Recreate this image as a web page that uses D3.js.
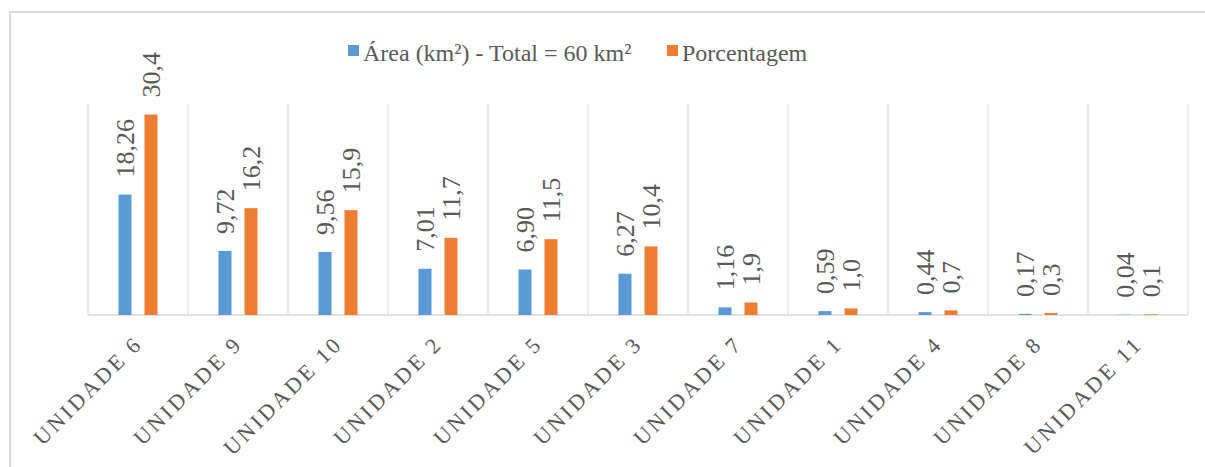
<!DOCTYPE html>
<html>
<head>
<meta charset="utf-8">
<script src="https://cdn.jsdelivr.net/npm/d3@7"></script>
<style>
  html, body { margin: 0; padding: 0; background: #fff; }
  svg { display: block; }
  text { font-family: "Liberation Serif", "Times New Roman", serif; fill: #595959; }
</style>
</head>
<body>
<div id="chart"></div>
<script>
// Units sorted by area
const categories = ["UNIDADE 6", "UNIDADE 9", "UNIDADE 10", "UNIDADE 2", "UNIDADE 5", "UNIDADE 3",
                    "UNIDADE 7", "UNIDADE 1", "UNIDADE 4", "UNIDADE 8", "UNIDADE 11"];
const areaKm2 = [18.26, 9.72, 9.56, 7.01, 6.90, 6.27, 1.16, 0.59, 0.44, 0.17, 0.04];
const percentage = [30.4, 16.2, 15.9, 11.7, 11.5, 10.4, 1.9, 1.0, 0.7, 0.3, 0.1];
const seriesNames = ["Área (km²) - Total = 60 km²", "Porcentagem"];
const seriesColors = ["#5b9bd5", "#ed7d31"];
const areaLabels = ["18,26", "9,72", "9,56", "7,01", "6,90", "6,27", "1,16", "0,59", "0,44", "0,17", "0,04"];
const pctLabels = ["30,4", "16,2", "15,9", "11,7", "11,5", "10,4", "1,9", "1,0", "0,7", "0,3", "0,1"];

const W = 1205, H = 467;
const plot = { left: 88, right: 1188, top: 104, bottom: 315 };

const svg = d3.select("#chart").append("svg").attr("width", W).attr("height", H);

// chart frame (top and left edges visible)
svg.append("path")
  .attr("d", `M10,${H} L10,12 L${W},12`)
  .attr("fill", "none").attr("stroke", "#d9d9d9").attr("stroke-width", 2);

const x0 = d3.scaleBand().domain(categories).range([plot.left, plot.right]).padding(0);
const x1 = d3.scaleBand().domain([0, 1]).range([0, x0.bandwidth()])
  .paddingInner(0.5).paddingOuter(1.173);
const y = d3.scaleLinear().domain([0, 32]).range([plot.bottom, plot.top]);

// vertical category separators
const seps = categories.map(c => x0(c)).concat([plot.right]);
svg.append("g").selectAll("line").data(seps).join("line")
  .attr("x1", d => d).attr("x2", d => d)
  .attr("y1", plot.top).attr("y2", plot.bottom)
  .attr("stroke", "#d9d9d9").attr("stroke-width", 1);

// baseline axis
svg.append("line")
  .attr("x1", plot.left).attr("x2", plot.right)
  .attr("y1", plot.bottom).attr("y2", plot.bottom)
  .attr("stroke", "#d9d9d9").attr("stroke-width", 1.5);

const rows = categories.map((c, i) => ({
  cat: c,
  vals: [
    { s: 0, v: areaKm2[i], label: areaLabels[i] },
    { s: 1, v: percentage[i], label: pctLabels[i] }
  ]
}));

const groups = svg.append("g").selectAll("g").data(rows).join("g")
  .attr("transform", d => `translate(${x0(d.cat)},0)`);

groups.selectAll("rect").data(d => d.vals).join("rect")
  .attr("x", d => x1(d.s))
  .attr("width", x1.bandwidth())
  .attr("y", d => y(d.v))
  .attr("height", d => y(0) - y(d.v))
  .attr("fill", d => seriesColors[d.s]);

// rotated value labels above each bar
groups.selectAll("text").data(d => d.vals).join("text")
  .attr("transform", d => `translate(${x1(d.s) + x1.bandwidth() / 2},${y(d.v) - 17}) rotate(-90)`)
  .attr("dy", "0.34em")
  .attr("text-anchor", "start")
  .attr("font-size", 26)
  .text(d => d.label);

// category labels at -45 degrees
svg.append("g").selectAll("text").data(categories).join("text")
  .attr("transform", d => `translate(${x0(d) + x0.bandwidth() / 2 + 6},${plot.bottom + 30}) rotate(-45)`)
  .attr("text-anchor", "end")
  .attr("font-size", 22)
  .attr("letter-spacing", 3)
  .text(d => d);

// legend
const legendX = [348, 667];
const legend = svg.append("g").selectAll("g").data(seriesNames).join("g")
  .attr("transform", (d, i) => `translate(${legendX[i]},45)`);
legend.append("rect").attr("width", 11).attr("height", 11).attr("fill", (d, i) => seriesColors[i]);
legend.append("text").attr("x", 15).attr("y", 16).attr("font-size", 24).text(d => d);
</script>
</body>
</html>
